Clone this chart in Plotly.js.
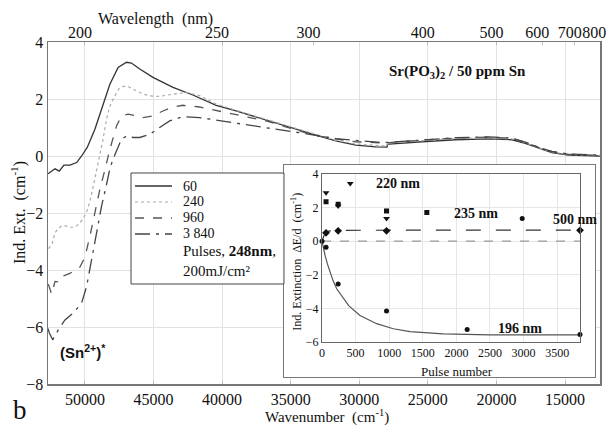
<!DOCTYPE html>
<html><head><meta charset="utf-8">
<script src="https://cdn.plot.ly/plotly-3.0.1.min.js"></script>
<style>html,body{margin:0;padding:0;background:#fff}#chart{width:609px;height:427px}</style>
</head><body><div id="chart"></div>
<script>
// ---- main spectra (wavenumber cm-1, induced extinction cm-1)
const w60 = [52690,52180,51870,51530,51090,50600,50240,49830,49270,48790,48180,47580,46970,46610,46000,45040,43580,42130,40430,38980,37770,36560,35340,34130,32920,31710,30250,28800,27980,27940,27830,25410,22990,20570,18870,17900,16930,15960,14750,12450];
const e60 = [-0.62,-0.45,-0.53,-0.32,-0.32,-0.23,0.0,0.30,0.94,1.64,2.52,3.11,3.29,3.26,3.05,2.76,2.41,2.14,1.78,1.58,1.40,1.23,1.05,0.88,0.70,0.53,0.38,0.32,0.31,0.42,0.42,0.50,0.57,0.60,0.57,0.44,0.27,0.12,0.03,0.0];
const w240 = [52653,52398,52180,51962,51672,51381,51090,50727,50363,50073,49818,49564,49346,49128,48910,48692,48423,48183,47820,47529,47217,46853,46584,46243,45785,45276,44549,43583,42609,41642,40429,38975,36555,34135,31708,30254,28801,27980,27944,25410,22990,20570,18870,17900,16930,15960,14750,12450];
const e240 = [-3.25,-3.10,-2.70,-2.55,-2.45,-2.45,-2.50,-2.50,-2.35,-2.15,-1.90,-1.45,-0.95,-0.45,0.02,0.55,1.29,1.75,2.11,2.35,2.44,2.44,2.36,2.29,2.18,2.11,2.09,2.17,2.23,2.12,1.82,1.60,1.25,0.90,0.55,0.42,0.36,0.35,0.46,0.54,0.61,0.64,0.60,0.47,0.29,0.14,0.05,0.02];
const w960 = [52667,52420,52180,51940,51817,51090,50363,50000,49637,49273,48910,48547,48183,47696,47333,46853,46243,45763,45036,44310,43583,42856,41642,39222,36795,34135,32922,31708,30254,28321,27834,25410,22990,20570,18870,17900,16930,15960,14750,12450];
const e960 = [-4.50,-4.85,-4.40,-4.42,-4.25,-4.12,-3.90,-3.55,-2.82,-1.99,-1.17,-0.50,0.23,1.05,1.41,1.47,1.41,1.35,1.41,1.58,1.72,1.78,1.72,1.47,1.23,0.85,0.70,0.60,0.50,0.46,0.47,0.56,0.63,0.66,0.62,0.48,0.30,0.15,0.06,0.02];
const w3840 = [52689,52594,52347,51940,51453,50850,50240,49876,49513,49150,48786,48423,48183,47943,47580,47333,46969,46490,46003,45276,44549,43823,42856,41642,39222,36795,34135,31708,29775,28321,27834,25410,22990,20570,18870,17900,16930,15960,14750,12450];
const e3840 = [-6.05,-6.21,-6.45,-6.10,-5.75,-5.51,-5.16,-4.58,-3.64,-2.70,-1.76,-1.00,-0.45,-0.10,0.35,0.59,0.70,0.65,0.65,0.76,1.00,1.23,1.38,1.35,1.17,1.00,0.80,0.61,0.53,0.47,0.48,0.57,0.64,0.67,0.63,0.49,0.31,0.16,0.07,0.03];
const pulseLabels = ['60','240','960','3 840'];

// ---- top axis wavelengths (nm)
const wavelengthTicks = [200,250,300,400,500,600,700,800];
const wavenumberTicks = [50000,45000,40000,35000,30000,25000,20000,15000];

// ---- inset: pulse number vs induced extinction
const p196 = [0,60,240,960,2160,3840];
const v196 = [0,-0.36,-2.55,-4.16,-5.25,-5.55];
const fit196N = [0,20,45,80,119,160,218,317,400,565,700,813,1061,1310,1805,2500,3840];
const fit196Y = [0,-0.4,-0.83,-1.35,-1.83,-2.3,-2.83,-3.42,-3.85,-4.42,-4.7,-4.91,-5.21,-5.38,-5.52,-5.57,-5.58];
const p500 = [60,240,960,3840];
const v500 = [0.50,0.62,0.62,0.65];
const fit500N = [0,20,40,60,100,200,400,1000,3840];
const fit500Y = [0,0.3,0.45,0.53,0.6,0.64,0.65,0.66,0.66];
const p235 = [60,240,960,1560];
const v235 = [2.35,2.20,1.80,1.71];
const p220 = [60,240,420,960];
const v220 = [2.88,2.10,3.44,1.35];
const pLate = [2980];
const vLate = [1.35];
const pulseTicks = [0,500,1000,1500,2000,2500,3000,3500];

const serif = 'Liberation Serif';
const sans = 'Liberation Sans';
const txt = '#111';

const lineStyles = [
  {color:'#333', width:1.3, dash:'solid'},
  {color:'#aaa', width:1.2, dash:'dot'},
  {color:'#555', width:1.3, dash:'dash'},
  {color:'#444', width:1.3, dash:'longdashdot'}
];
const series = [[w60,e60],[w240,e240],[w960,e960],[w3840,e3840]];

const traces = series.map((s,i)=>({x:s[0], y:s[1], mode:'lines', name:pulseLabels[i], line:lineStyles[i], showlegend:false}));
traces.push(
  // invisible helpers so the top axis and the inset frame are built
  {x:[wavenumberTicks[0]], y:[0], xaxis:'x2', yaxis:'y', mode:'markers', marker:{opacity:0}, showlegend:false, hoverinfo:'skip'},
  {x:[0.5], y:[0.5], xaxis:'x3', yaxis:'y3', mode:'markers', marker:{opacity:0}, showlegend:false, hoverinfo:'skip'},
  // inset
  {x:[0,3840], y:[0,0], xaxis:'x4', yaxis:'y4', mode:'lines', showlegend:false, line:{color:'#999', width:1.2, dash:'dash'}},
  {x:fit196N, y:fit196Y, xaxis:'x4', yaxis:'y4', mode:'lines', showlegend:false, line:{color:'#555', width:1.2}},
  {x:fit500N, y:fit500Y, xaxis:'x4', yaxis:'y4', mode:'lines', showlegend:false, line:{color:'#333', width:1.1, dash:'longdash'}},
  {x:p196, y:v196, xaxis:'x4', yaxis:'y4', mode:'markers', showlegend:false, cliponaxis:false, marker:{symbol:'circle', size:5, color:'#111'}},
  {x:p500, y:v500, xaxis:'x4', yaxis:'y4', mode:'markers', showlegend:false, cliponaxis:false, marker:{symbol:'diamond', size:6, color:'#111'}},
  {x:p235, y:v235, xaxis:'x4', yaxis:'y4', mode:'markers', showlegend:false, cliponaxis:false, marker:{symbol:'square', size:5, color:'#111'}},
  {x:p220, y:v220, xaxis:'x4', yaxis:'y4', mode:'markers', showlegend:false, cliponaxis:false, marker:{symbol:'triangle-down', size:6, color:'#111'}},
  {x:pLate, y:vLate, xaxis:'x4', yaxis:'y4', mode:'markers', showlegend:false, cliponaxis:false, marker:{symbol:'circle', size:5, color:'#111'}}
);

// legend (drawn as a framed key in paper coordinates)
const legX0 = 0.1504, legX1 = 0.4275, legY0 = 0.2924, legY1 = 0.617;
const keyX0 = 0.1576, keyX1 = 0.2246, keyTextX = 0.2409;
const rowY = [0.5789, 0.5322, 0.4854, 0.4386];
const shapes = [
  {type:'rect', xref:'paper', yref:'paper', x0:legX0, x1:legX1, y0:legY0, y1:legY1, fillcolor:'#fff', line:{color:'#444', width:1}, layer:'above'}
];
rowY.forEach((y,i)=>shapes.push({type:'line', xref:'paper', yref:'paper', x0:keyX0, x1:keyX1, y0:y, y1:y, line:lineStyles[i], layer:'above'}));

const A = (o)=>Object.assign({showarrow:false, xanchor:'center', yanchor:'middle'}, o);
const annotations = [
  A({xref:'paper', yref:'paper', x:0.194, y:1.067, text:'Wavelength  (nm)', font:{family:serif, size:16, color:txt}}),
  A({xref:'paper', yref:'paper', x:0.505, y:-0.094, text:'Wavenumber  (cm<sup>-1</sup>)', font:{family:serif, size:15, color:txt}}),
  A({xref:'paper', yref:'paper', x:-0.0507, y:-0.076, text:'b', font:{family:serif, size:27, color:txt}}),
  A({xref:'paper', yref:'paper', x:-0.0543, y:0.5, text:'Ind. Ext.  (cm<sup>-1</sup>)', textangle:-90, font:{family:serif, size:16, color:txt}}),
  A({xref:'paper', yref:'paper', x:0.741, y:0.912, text:'<b>Sr(PO<sub>3</sub>)<sub>2</sub> / 50 ppm Sn</b>', font:{family:serif, size:15, color:txt}}),
  A({xref:'paper', yref:'paper', x:0.063, y:0.0936, text:'<b>(Sn<sup>2+</sup>)<sup>*</sup></b>', font:{family:sans, size:15, color:txt}}),
  A({xref:'paper', yref:'paper', x:0.451, y:0.357, text:'Ind. Extinction  ΔE/d  (cm<sup>-1</sup>)', textangle:-90, font:{family:serif, size:12, color:txt}}),
  A({xref:'paper', yref:'paper', x:0.741, y:0.038, text:'Pulse number', font:{family:serif, size:13, color:txt}}),
  A({xref:'x4', yref:'y4', x:1131, y:3.43, text:'<b>220 nm</b>', font:{family:serif, size:14, color:txt}}),
  A({xref:'x4', yref:'y4', x:2292, y:1.64, text:'<b>235 nm</b>', font:{family:serif, size:14, color:txt}}),
  A({xref:'x4', yref:'y4', x:3766, y:1.28, text:'<b>500 nm</b>', font:{family:serif, size:14, color:txt}}),
  A({xref:'x4', yref:'y4', x:2947, y:-5.22, text:'<b>196 nm</b>', font:{family:serif, size:14, color:txt}})
];
pulseLabels.forEach((t,i)=>annotations.push(A({xref:'paper', yref:'paper', x:keyTextX, y:rowY[i], xanchor:'left', text:t, font:{family:serif, size:14, color:txt}})));
annotations.push(A({xref:'paper', yref:'paper', x:keyTextX, y:0.360, xanchor:'left', align:'left',
  text:'Pulses, <b>248nm</b>,<br>200mJ/cm²', font:{family:serif, size:15, color:txt}}));

const mainRange = [52690, 12450];
const layout = {
  width:609, height:427,
  margin:{l:48, r:9, t:42, b:43},
  paper_bgcolor:'#fff', plot_bgcolor:'#fff',
  font:{family:serif, color:txt, size:16},
  showlegend:false,
  xaxis:{domain:[0,1], range:mainRange, tickvals:wavenumberTicks, ticktext:wavenumberTicks.map(String), tickangle:0,
         showgrid:true, gridcolor:'#e2e2e2', zeroline:false, showline:true, mirror:true, linecolor:'#777', linewidth:1.5,
         ticks:'inside', ticklen:3, tickcolor:'#bbb', tickfont:{family:serif, size:16, color:txt}},
  xaxis2:{overlaying:'x', side:'top', anchor:'y', range:mainRange, tickvals:wavelengthTicks.map(l=>1e7/l), ticktext:wavelengthTicks.map(String),
          tickangle:0, showgrid:false, zeroline:false, showline:false, ticks:'inside', ticklen:3, tickcolor:'#bbb',
          ticklabelshift:5, ticklabeloverflow:'allow', tickfont:{family:serif, size:16, color:txt}},
  yaxis:{domain:[0,1], range:[-8,4], dtick:2, tick0:0, showgrid:true, gridcolor:'#e2e2e2', zeroline:false,
         showline:true, mirror:true, linecolor:'#777', linewidth:1.5, ticks:'', tickfont:{family:serif, size:16, color:txt}},
  xaxis3:{domain:[0.4275,0.991], anchor:'y3', range:[0,1], showgrid:false, zeroline:false, showticklabels:false,
          showline:true, mirror:true, linecolor:'#777', linewidth:1.2, ticks:''},
  yaxis3:{domain:[0.0205,0.6404], anchor:'x3', range:[0,1], showgrid:false, zeroline:false, showticklabels:false,
          showline:true, mirror:true, linecolor:'#777', linewidth:1.2, ticks:''},
  xaxis4:{domain:[0.4964,0.9638], anchor:'y4', range:[0,3840], tickvals:pulseTicks, tickangle:0,
          showgrid:true, gridcolor:'#e6e6e6', zeroline:false, showline:true, mirror:true, linecolor:'#666', linewidth:1,
          ticks:'', tickfont:{family:serif, size:12, color:txt}},
  yaxis4:{domain:[0.1228,0.614], anchor:'x4', range:[-6,4], dtick:2, tick0:0, showgrid:true, gridcolor:'#e6e6e6',
          zeroline:false, showline:true, mirror:true, linecolor:'#666', linewidth:1, ticks:'',
          tickfont:{family:serif, size:12, color:txt}},
  shapes:shapes,
  annotations:annotations
};

Plotly.newPlot('chart', traces, layout, {displayModeBar:false, staticPlot:true});
</script></body></html>
